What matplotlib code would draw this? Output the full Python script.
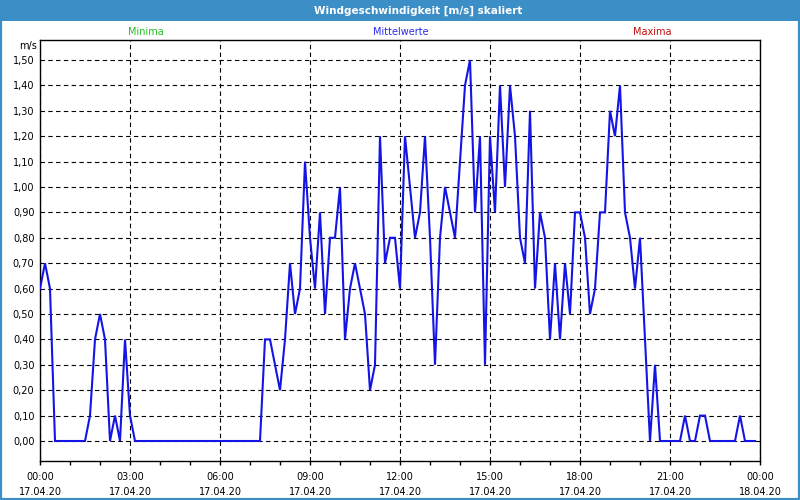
import matplotlib
matplotlib.use("Agg")
import matplotlib.pyplot as plt
import numpy as np
from matplotlib.patches import Rectangle
from matplotlib.ticker import FixedLocator, FuncFormatter

title = "Windgeschwindigkeit [m/s] skaliert"
legend_labels = ["Minima", "Mittelwerte", "Maxima"]
legend_colors = ["#22c022", "#2a2aee", "#c01010"]
unit_label = "m/s"

tick_hours = [0, 3, 6, 9, 12, 15, 18, 21, 24]
tick_times = ["00:00", "03:00", "06:00", "09:00", "12:00", "15:00", "18:00", "21:00", "00:00"]
tick_dates = ["17.04.20"] * 8 + ["18.04.20"]

sample_minutes = 10
# Mittelwerte, one value per 10 minutes, 17.04.20 00:00 .. 23:50
wind = [
    0.6, 0.7, 0.6, 0.0, 0.0, 0.0,   # 00
    0.0, 0.0, 0.0, 0.0, 0.1, 0.4,   # 01
    0.5, 0.4, 0.0, 0.1, 0.0, 0.4,   # 02
    0.1, 0.0, 0.0, 0.0, 0.0, 0.0,   # 03
    0.0, 0.0, 0.0, 0.0, 0.0, 0.0,   # 04
    0.0, 0.0, 0.0, 0.0, 0.0, 0.0,   # 05
    0.0, 0.0, 0.0, 0.0, 0.0, 0.0,   # 06
    0.0, 0.0, 0.0, 0.4, 0.4, 0.3,   # 07
    0.2, 0.4, 0.7, 0.5, 0.6, 1.1,   # 08
    0.8, 0.6, 0.9, 0.5, 0.8, 0.8,   # 09
    1.0, 0.4, 0.6, 0.7, 0.6, 0.5,   # 10
    0.2, 0.3, 1.2, 0.7, 0.8, 0.8,   # 11
    0.6, 1.2, 1.0, 0.8, 0.9, 1.2,   # 12
    0.8, 0.3, 0.8, 1.0, 0.9, 0.8,   # 13
    1.1, 1.4, 1.5, 0.9, 1.2, 0.3,   # 14
    1.2, 0.9, 1.4, 1.0, 1.4, 1.2,   # 15
    0.8, 0.7, 1.3, 0.6, 0.9, 0.8,   # 16
    0.4, 0.7, 0.4, 0.7, 0.5, 0.9,   # 17
    0.9, 0.8, 0.5, 0.6, 0.9, 0.9,   # 18
    1.3, 1.2, 1.4, 0.9, 0.8, 0.6,   # 19
    0.8, 0.4, 0.0, 0.3, 0.0, 0.0,   # 20
    0.0, 0.0, 0.0, 0.1, 0.0, 0.0,   # 21
    0.1, 0.1, 0.0, 0.0, 0.0, 0.0,   # 22
    0.0, 0.0, 0.1, 0.0, 0.0, 0.0,   # 23
]
y_ticks = [round(0.1 * i, 1) for i in range(16)]

hours = np.arange(len(wind)) * sample_minutes / 60.0

W, H = 800, 500
fig = plt.figure(figsize=(8, 5), dpi=100, facecolor="white")

# title bar & frame
bar_color = "#3c8fc6"
fig.patches.append(Rectangle((0, 1 - 20.5 / H), 1, 20.5 / H, transform=fig.transFigure,
                             facecolor=bar_color, edgecolor="none", zorder=0))
fig.patches.append(Rectangle((0, 0), 1, 1, transform=fig.transFigure, fill=False,
                             edgecolor=bar_color, linewidth=3, zorder=5))
fig.text(418 / W, 1 - 10.5 / H, title, color="white", fontweight="bold",
         ha="center", va="center", fontsize=7.5, family="DejaVu Sans")

for lab, col, xp in zip(legend_labels, legend_colors, [146, 401, 652]):
    fig.text(xp / W, 1 - 32 / H, lab, color=col, ha="center", va="center", fontsize=7)

fig.text(28 / W, 1 - 46 / H, unit_label, ha="center", va="center", fontsize=7)

left, right, top, bottom = 40, 760, 40, 461
ax = fig.add_axes([left / W, 1 - bottom / H, (right - left) / W, (bottom - top) / H])
ax.set_facecolor("white")

ax.plot(hours, wind, color="#1414e6", linewidth=1.5, solid_joinstyle="miter", zorder=3)

px_per_unit = (441 - 60) / 1.5
ax.set_ylim((441 - bottom) / px_per_unit, (441 - top) / px_per_unit)
ax.set_xlim(0, 24)

ax.yaxis.set_major_locator(FixedLocator(y_ticks))
ax.yaxis.set_major_formatter(FuncFormatter(lambda v, p: f"{v:.2f}".replace(".", ",")))
ax.xaxis.set_major_locator(FixedLocator(tick_hours))
ax.set_xticklabels([f"{t}\n{d}" for t, d in zip(tick_times, tick_dates)], linespacing=1.6)
ax.xaxis.set_minor_locator(FixedLocator(list(range(25))))

ax.tick_params(axis="x", which="both", direction="out", length=3, width=1, pad=5,
               labelsize=7, colors="black")
ax.tick_params(axis="y", which="both", length=0, pad=4, labelsize=7)

ax.grid(True, which="major", color="black", linewidth=0.8, linestyle=(0, (4, 3)), zorder=1)

for s in ax.spines.values():
    s.set_color("black")
    s.set_linewidth(1.0)

fig.savefig("out.png", dpi=100, facecolor="white")
